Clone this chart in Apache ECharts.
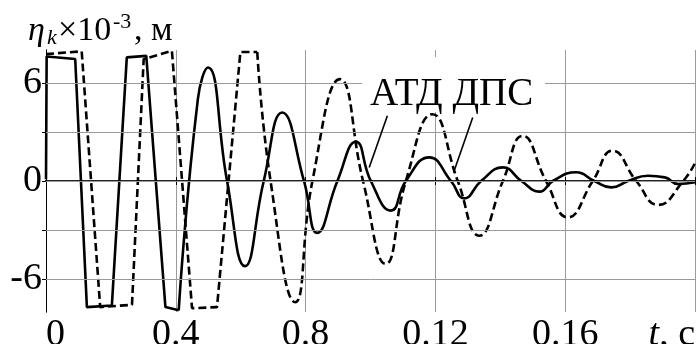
<!DOCTYPE html>
<html><head><meta charset="utf-8">
<script src="https://cdn.jsdelivr.net/npm/echarts@6/dist/echarts.min.js"></script>
<style>html,body{margin:0;padding:0;background:#fff}#c{width:696px;height:344px}</style>
</head><body><div id="c"></div>
<script>
// ---- data (t in seconds, eta in 1e-3 m) ----
const xTickLabels = ['0', '0.4', '0.8', '0.12', '0.16', 't, c'];
const yTickValues = [-6, -3, 0, 3, 6];
const yLabelValues = [-6, 0, 6];

// АТД (solid): saturated part
const atdSatT = [0, 0.0002, 0.009, 0.0126, 0.0203, 0.0249, 0.0309, 0.0368, 0.0409];
const atdSatV = [0.1, 7.6, 7.45, -7.7, -7.6, 7.55, 7.64, -7.7, -7.9];
// АТД (solid): oscillating part
const atdOscT = [0.0409, 0.0468, 0.0499, 0.0558, 0.0613, 0.0671, 0.0728, 0.0795, 0.0836, 0.0898, 0.0955, 0.1001, 0.1063, 0.1109, 0.1181, 0.1248, 0.1289, 0.1341, 0.1408, 0.1465, 0.1521, 0.1562, 0.1634, 0.169, 0.1742, 0.1794, 0.1855, 0.1907, 0.1948, 0.2];
const atdOscV = [-7.9, 5.0, 6.93, 0, -5.2, 0, 4.18, 0, -3.17, 0, 2.4, 0, -1.81, 0, 1.44, 0, -1.06, 0, 0.83, 0, -0.65, 0, 0.53, 0, -0.39, 0, 0.32, 0.22, -0.18, -0.08];

// ДПС (dashed): saturated part
const dpsSatT = [0, 0.011, 0.0167, 0.0265, 0.0301, 0.0388, 0.045, 0.0527, 0.0599, 0.0651];
const dpsSatV = [7.75, 7.92, -7.7, -7.56, 7.44, 7.95, -7.77, -7.7, 7.88, 7.88];
// ДПС (dashed): oscillating part
const dpsOscT = [0.0651, 0.0692, 0.0768, 0.0821, 0.0906, 0.0977, 0.1047, 0.1109, 0.1191, 0.1269, 0.1335, 0.1408, 0.1469, 0.1541, 0.1608, 0.1685, 0.1746, 0.1819, 0.1886, 0.1964, 0.2];
const dpsOscV = [7.88, 0, -7.4, 0, 6.22, 0, -5.06, 0, 4.08, 0, -3.34, 0, 2.76, 0, -2.22, 0, 1.85, 0, -1.46, 0, 1.1];

// leader lines for the annotation (data coordinates)
const atdLeader = [[0.1052, 3.98], [0.0996, 0.83]];
const dpsLeader = [[0.1315, 3.88], [0.1256, 0.52]];

const zip = (t, v) => t.map((x, i) => [x, v[i]]);
const FF = '"Liberation Serif", "Times New Roman", serif';

const chart = echarts.init(document.getElementById('c'), null, {renderer: 'canvas'});
const solidStyle = {color: '#000', width: 2.6, type: 'solid'};
const dashStyle = {color: '#000', width: 2.6, type: [8, 4]};

const option = {
  animation: false,
  backgroundColor: '#fff',
  grid: {left: 46, right: 1, top: 50, bottom: 32, containLabel: false, outerBoundsMode: 'none'},
  xAxis: [{
    type: 'value', min: 0, max: 0.2, interval: 0.04, position: 'bottom',
    axisLine: {show: true, lineStyle: {color: '#000', width: 2}},
    axisTick: {show: true, inside: true, length: 4, lineStyle: {color: '#000', width: 1}},
    splitLine: {show: true, lineStyle: {color: '#9a9a9a', width: 1}},
    axisLabel: {
      show: true, margin: 4, color: '#000', fontFamily: FF, fontSize: 38,
      alignMinLabel: 'left', alignMaxLabel: 'right',
      formatter: function (v) {
        const i = Math.round(v / 0.04);
        const s = xTickLabels[i];
        if (i === xTickLabels.length - 1) return '{it|' + s.slice(0, 1) + '}{n|' + s.slice(1) + '}';
        return s;
      },
      rich: {
        it: {fontStyle: 'italic', fontFamily: FF, fontSize: 38, color: '#000'},
        n: {fontFamily: FF, fontSize: 38, color: '#000'}
      }
    }
  }, {
    type: 'value', min: 0, max: 0.2, interval: 0.04, position: 'top',
    axisLine: {show: true, lineStyle: {color: '#222', width: 2}},
    axisTick: {show: true, inside: true, length: 4, lineStyle: {color: '#000', width: 1}},
    splitLine: {show: false}, axisLabel: {show: false}
  }],
  yAxis: [{
    type: 'value', min: -8, max: 8, interval: 1, position: 'left',
    axisLine: {show: true, lineStyle: {color: '#000', width: 1}},
    axisTick: {show: true, inside: true, length: 4, customValues: yTickValues, lineStyle: {color: '#000', width: 1}},
    splitLine: {show: false},
    axisLabel: {show: true, customValues: yLabelValues, margin: 4, color: '#000', fontFamily: FF, fontSize: 38, padding: [9, 0, 0, 0]}
  }, {
    type: 'value', min: -8, max: 8, interval: 1, position: 'right',
    axisLine: {show: true, lineStyle: {color: '#000', width: 1}},
    axisTick: {show: true, inside: true, length: 4, customValues: yTickValues, lineStyle: {color: '#000', width: 1}},
    splitLine: {show: false}, axisLabel: {show: false}
  }],
  series: [
    {
      type: 'line', data: [], z: 1, silent: true,
      markLine: {
        silent: true, symbol: ['none', 'none'], label: {show: false},
        lineStyle: {color: '#9a9a9a', width: 1, type: 'solid'},
        data: yTickValues.map(v => ({yAxis: v}))
      }
    },
    {type: 'line', data: zip(dpsSatT, dpsSatV), z: 3, showSymbol: false, smooth: false, lineStyle: dashStyle, clip: true},
    {type: 'line', data: zip(dpsOscT, dpsOscV), z: 3, showSymbol: false, smooth: 0.5, lineStyle: dashStyle, clip: true},
    {type: 'line', data: zip(atdSatT, atdSatV), z: 4, showSymbol: false, smooth: false, lineStyle: solidStyle, clip: true},
    {
      type: 'line', data: zip(atdOscT, atdOscV), z: 4, showSymbol: false, smooth: 0.5, lineStyle: solidStyle, clip: true,
      markLine: {
        silent: true, symbol: ['none', 'none'], label: {show: false},
        lineStyle: {color: '#000', width: 1.6, type: 'solid'},
        data: [
          [{coord: atdLeader[0]}, {coord: atdLeader[1]}],
          [{coord: dpsLeader[0]}, {coord: dpsLeader[1]}]
        ]
      }
    }
  ],
  graphic: [
    {type: 'rect', z: 49, shape: {x: 362, y: 57, width: 183, height: 55}, style: {fill: '#fff'}},
    {type: 'text', x: 370, y: 94.5, z: 50, style: {text: 'АТД ДПС', font: '39px ' + FF, fill: '#000', align: 'left', verticalAlign: 'middle'}},
    {type: 'text', x: 28, y: 31.5, z: 50, style: {text: 'η', font: 'italic 34px ' + FF, fill: '#000', align: 'left', verticalAlign: 'middle'}},
    {type: 'text', x: 47, y: 38.5, z: 50, style: {text: 'k', font: 'italic 22px ' + FF, fill: '#000', align: 'left', verticalAlign: 'middle'}},
    {type: 'text', x: 58, y: 31.5, z: 50, style: {text: '×10', font: '34px ' + FF, fill: '#000', align: 'left', verticalAlign: 'middle'}},
    {type: 'text', x: 113, y: 22.5, z: 50, style: {text: '-3', font: '22px ' + FF, fill: '#000', align: 'left', verticalAlign: 'middle'}},
    {type: 'text', x: 134, y: 31.5, z: 50, style: {text: ', м', font: '34px ' + FF, fill: '#000', align: 'left', verticalAlign: 'middle'}}
  ]
};
chart.setOption(option);
</script></body></html>
